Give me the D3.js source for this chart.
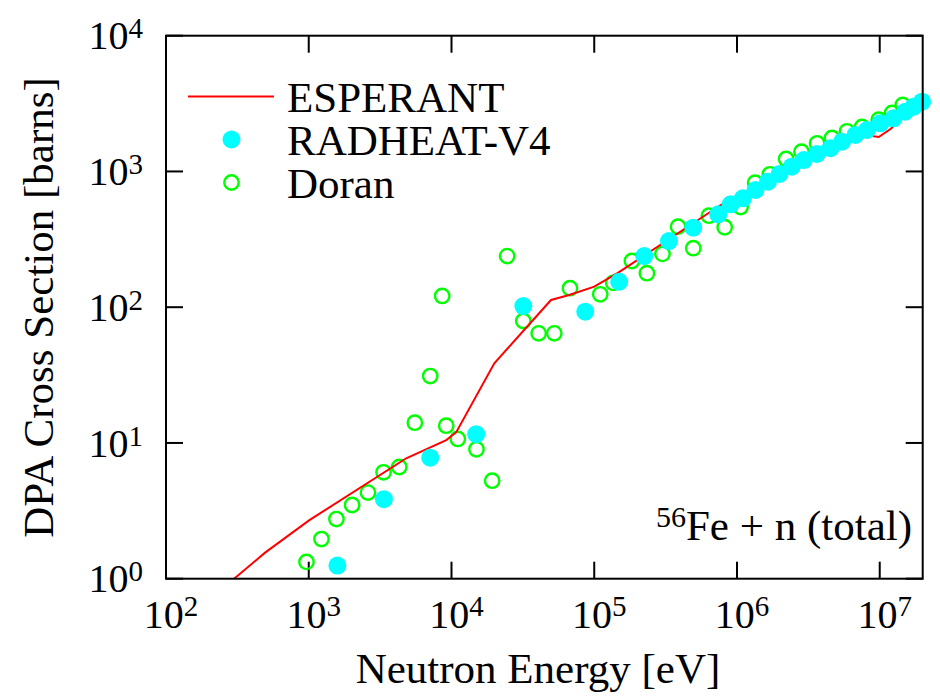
<!DOCTYPE html>
<html>
<head>
<meta charset="utf-8">
<script src="https://cdn.jsdelivr.net/npm/d3@7"></script>
</head>
<body style="margin:0">
<div id="visualization"></div>
<script>
// ESPERANT curve (energy in eV, DPA cross section in barns)
const esperantE = [300, 492, 1016, 4820, 9190, 10800, 19950, 49800, 66800, 100000, 145600,
    769000, 1.43e6, 2.72e6, 5.17e6, 7.85e6, 9.84e6, 1.19e7, 1.96e7];
const esperantSigma = [1.0, 1.55, 2.71, 7.71, 10.5, 12.0, 38.6, 113, 123, 141.6, 178,
    566, 781, 1154, 1566, 1857, 1794, 2055, 3304];

// RADHEAT-V4 points
const radheatE = [1588, 3362, 7096, 14900, 31870, 86500, 149600, 224000, 334000, 494000,
    739000, 903000, 1.10e6, 1.35e6, 1.65e6, 1.99e6, 2.42e6, 2.94e6, 3.63e6, 4.52e6,
    5.45e6, 6.76e6, 8.15e6, 1.01e7, 1.25e7, 1.51e7, 1.73e7, 1.98e7];
const radheatSigma = [1.25, 3.85, 7.79, 11.6, 102, 92.7, 154, 238, 307, 385,
    483, 573, 634, 730, 841, 958, 1084, 1214, 1345, 1482,
    1657, 1857, 2020, 2264, 2464, 2755, 3000, 3266];

// Doran points
const doranE = [964, 1228, 1563, 2013, 2600, 3342, 4305, 5535, 7096, 8610,
    9186, 11070, 14960, 19270, 24550, 31870, 40800, 52500, 67600, 110200,
    135900, 183600, 233800, 300600, 386600, 494000, 636000, 820000, 1.06e6, 1.34e6,
    1.70e6, 2.21e6, 2.83e6, 3.64e6, 4.63e6, 5.90e6, 7.52e6, 9.84e6, 1.22e7, 1.45e7];
const doranSigma = [1.33, 1.96, 2.75, 3.49, 4.31, 6.08, 6.65, 14.1, 31.1, 121,
    13.4, 10.7, 8.98, 5.27, 238, 79.1, 64.2, 64.2, 138, 124.5,
    151, 219, 178, 247, 392, 272, 472, 388, 547, 826,
    953, 1236, 1399, 1612, 1763, 1976, 2125, 2405, 2697, 3090];

const xTickExp = [2, 3, 4, 5, 6, 7];
const yTickExp = [0, 1, 2, 3, 4];

const legendLabels = ["ESPERANT", "RADHEAT-V4", "Doran"];

const FONT = "Liberation Serif";

const W = 940, H = 697;
const margin = {top: 35.7, right: 17.3, bottom: 118.3, left: 166};
const width = W - margin.left - margin.right;
const height = H - margin.top - margin.bottom;

const svg = d3.select("#visualization")
    .append("svg")
    .attr("width", W)
    .attr("height", H)
    .style("font-family", FONT);

const g = svg.append("g")
    .attr("transform", "translate(" + margin.left + "," + margin.top + ")");

const xScale = d3.scaleLog().domain([100, 2e7]).range([0, width]);
const yScale = d3.scaleLog().domain([1, 1e4]).range([height, 0]);

const tickLen = 17;

function addText(parent, size) {
    return parent.append("text")
        .style("font-family", FONT)
        .attr("font-family", FONT)
        .attr("font-size", size);
}

// ticks on all four sides, pointing inward
xTickExp.forEach(e => {
    const x = xScale(Math.pow(10, e));
    g.append("line").attr("x1", x).attr("x2", x).attr("y1", height).attr("y2", height - tickLen)
        .attr("stroke", "#000").attr("stroke-width", 2);
    g.append("line").attr("x1", x).attr("x2", x).attr("y1", 0).attr("y2", tickLen)
        .attr("stroke", "#000").attr("stroke-width", 2);
    const t = addText(g, 40)
        .attr("x", x + 5)
        .attr("y", height + 49.6)
        .attr("text-anchor", "middle");
    t.append("tspan").text("10");
    t.append("tspan").attr("dy", -12).attr("font-size", 29).text(e);
});

yTickExp.forEach(e => {
    const y = yScale(Math.pow(10, e));
    g.append("line").attr("x1", 0).attr("x2", tickLen).attr("y1", y).attr("y2", y)
        .attr("stroke", "#000").attr("stroke-width", 2);
    g.append("line").attr("x1", width).attr("x2", width - tickLen).attr("y1", y).attr("y2", y)
        .attr("stroke", "#000").attr("stroke-width", 2);
    const t = addText(g, 40)
        .attr("x", -23)
        .attr("y", y + 13.6)
        .attr("text-anchor", "end");
    t.append("tspan").text("10");
    t.append("tspan").attr("dy", -11).attr("font-size", 29).text(e);
});

// Doran (hollow green)
g.selectAll(".doran")
    .data(d3.zip(doranE, doranSigma))
    .enter().append("circle")
    .attr("class", "doran")
    .attr("cx", d => xScale(d[0]))
    .attr("cy", d => yScale(d[1]))
    .attr("r", 7.2)
    .attr("fill", "none")
    .attr("stroke", "#00ff00")
    .attr("stroke-width", 2.4);

// ESPERANT line
const line = d3.line()
    .x(d => xScale(d[0]))
    .y(d => yScale(d[1]));

g.append("path")
    .datum(d3.zip(esperantE, esperantSigma))
    .attr("fill", "none")
    .attr("stroke", "#ff0000")
    .attr("stroke-width", 2)
    .attr("d", line);

// RADHEAT-V4 (filled cyan)
g.selectAll(".radheat")
    .data(d3.zip(radheatE, radheatSigma))
    .enter().append("circle")
    .attr("class", "radheat")
    .attr("cx", d => xScale(d[0]))
    .attr("cy", d => yScale(d[1]))
    .attr("r", 9)
    .attr("fill", "#00ffff");

// frame
g.append("rect")
    .attr("width", width)
    .attr("height", height)
    .attr("fill", "none")
    .attr("stroke", "#000")
    .attr("stroke-width", 2);

// legend
const legendY = [96.5, 139.5, 182.5];
svg.append("line")
    .attr("x1", 188).attr("x2", 274).attr("y1", legendY[0]).attr("y2", legendY[0])
    .attr("stroke", "#ff0000").attr("stroke-width", 2);
svg.append("circle")
    .attr("cx", 231.5).attr("cy", legendY[1]).attr("r", 9).attr("fill", "#00ffff");
svg.append("circle")
    .attr("cx", 231.5).attr("cy", legendY[2]).attr("r", 7.2)
    .attr("fill", "none").attr("stroke", "#00ff00").attr("stroke-width", 2.4);
legendLabels.forEach((lab, i) => {
    addText(svg, 43)
        .attr("x", 287)
        .attr("y", legendY[i] + 15)
        .text(lab);
});

// annotation
const ann = addText(svg, 43)
    .attr("x", 912)
    .attr("y", 540)
    .attr("text-anchor", "end");
ann.append("tspan").attr("font-size", 30).attr("dy", -13).text("56");
ann.append("tspan").attr("dy", 13).text("Fe + n (total)");

// axis titles
addText(svg, 43)
    .attr("x", 538)
    .attr("y", 683)
    .attr("text-anchor", "middle")
    .text("Neutron Energy [eV]");

addText(svg, 43)
    .attr("transform", "translate(53,307.5) rotate(-90)")
    .attr("text-anchor", "middle")
    .text("DPA Cross Section [barns]");
</script>
</body>
</html>
